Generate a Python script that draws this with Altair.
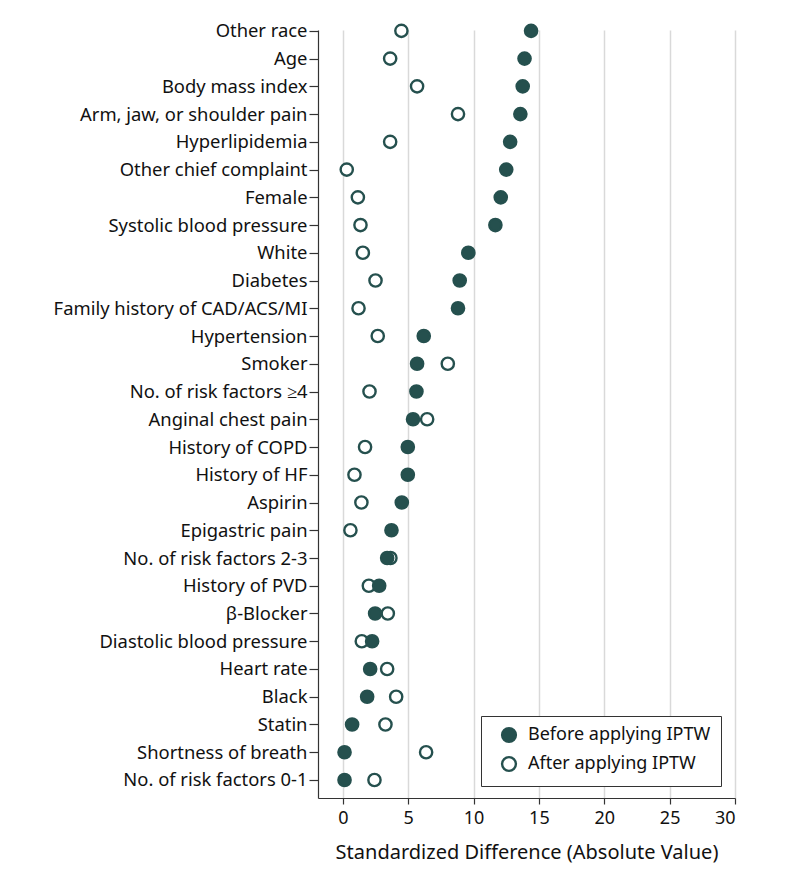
import altair as alt
import pandas as pd

labels = [
    "Other race", "Age", "Body mass index", "Arm, jaw, or shoulder pain",
    "Hyperlipidemia", "Other chief complaint", "Female", "Systolic blood pressure",
    "White", "Diabetes", "Family history of CAD/ACS/MI", "Hypertension", "Smoker",
    "No. of risk factors \u22654", "Anginal chest pain", "History of COPD",
    "History of HF", "Aspirin", "Epigastric pain", "No. of risk factors 2-3",
    "History of PVD", "\u03b2-Blocker", "Diastolic blood pressure", "Heart rate",
    "Black", "Statin", "Shortness of breath", "No. of risk factors 0-1",
]
before = [14.4, 13.9, 13.76, 13.58, 12.8, 12.5, 12.08, 11.67, 9.6, 8.94, 8.81,
          6.19, 5.68, 5.63, 5.37, 4.97, 4.97, 4.51, 3.72, 3.39, 2.78, 2.47, 2.24,
          2.09, 1.86, 0.71, 0.13, 0.13]
after = [4.48, 3.62, 5.68, 8.81, 3.62, 0.3, 1.15, 1.35, 1.53, 2.5, 1.2, 2.67,
         8.03, 2.04, 6.45, 1.7, 0.89, 1.42, 0.58, 3.64, 1.99, 3.44, 1.45, 3.39,
         4.08, 3.26, 6.37, 2.42]
series = ["Before applying IPTW", "After applying IPTW"]
x_ticks = [0, 5, 10, 15, 20, 25, 30]

rows = []
for i, lab in enumerate(labels):
    rows.append({"idx": i, "label": lab, "value": after[i], "series": series[1], "order": 0})
    rows.append({"idx": i, "label": lab, "value": before[i], "series": series[0], "order": 1})
df = pd.DataFrame(rows)

teal = "#25504e"
font = "Noto Sans"
label_arr = "[" + ",".join("'" + l + "'" for l in labels) + "]"

chart = alt.Chart(df).mark_point(
    shape="circle", size=150, strokeWidth=2.4, opacity=1, stroke=teal, filled=False
).encode(
    x=alt.X("value:Q",
            scale=alt.Scale(domain=[-1.9, 30], nice=False, zero=False),
            axis=alt.Axis(values=x_ticks, title="Standardized Difference (Absolute Value)",
                          grid=True, gridColor="#d9d9d9", gridWidth=1.5,
                          tickColor="#333333", tickSize=6, domainColor="#333333",
                          labelFontSize=18, titleFontSize=20, labelPadding=5,
                          titlePadding=15, titleFontWeight="normal")),
    y=alt.Y("idx:Q",
            scale=alt.Scale(domain=[-0.03, 27.65], reverse=True, nice=False, zero=False),
            axis=alt.Axis(values=list(range(len(labels))), labelExpr=label_arr + "[datum.value]",
                          title=None, grid=False, tickColor="#333333", tickSize=9,
                          domainColor="#333333", labelFontSize=18.4, labelPadding=2,
                          labelLimit=0)),
    fill=alt.Fill("series:N",
                  scale=alt.Scale(domain=series, range=[teal, "#ffffff"]),
                  legend=alt.Legend(title=None, orient="none", legendX=163, legendY=686,
                                    strokeColor="#333333", padding=10, labelFontSize=18,
                                    symbolType="circle", symbolSize=190,
                                    symbolStrokeColor=teal, symbolStrokeWidth=2.4,
                                    labelColor="#111111", rowPadding=5, labelOffset=10,
                                    symbolOffset=9, labelLimit=0, fillColor="white")),
    order=alt.Order("order:Q"),
).properties(
    width=417, height=768,
    padding={"left": 45, "top": 11, "right": 5, "bottom": 5},
).configure(font=font).configure_axis(
    labelColor="#111111", titleColor="#111111", domainWidth=1.2, tickWidth=1.2
).configure_view(stroke=None)

chart.save("out.html", embed_options={"renderer": "svg", "actions": False})
